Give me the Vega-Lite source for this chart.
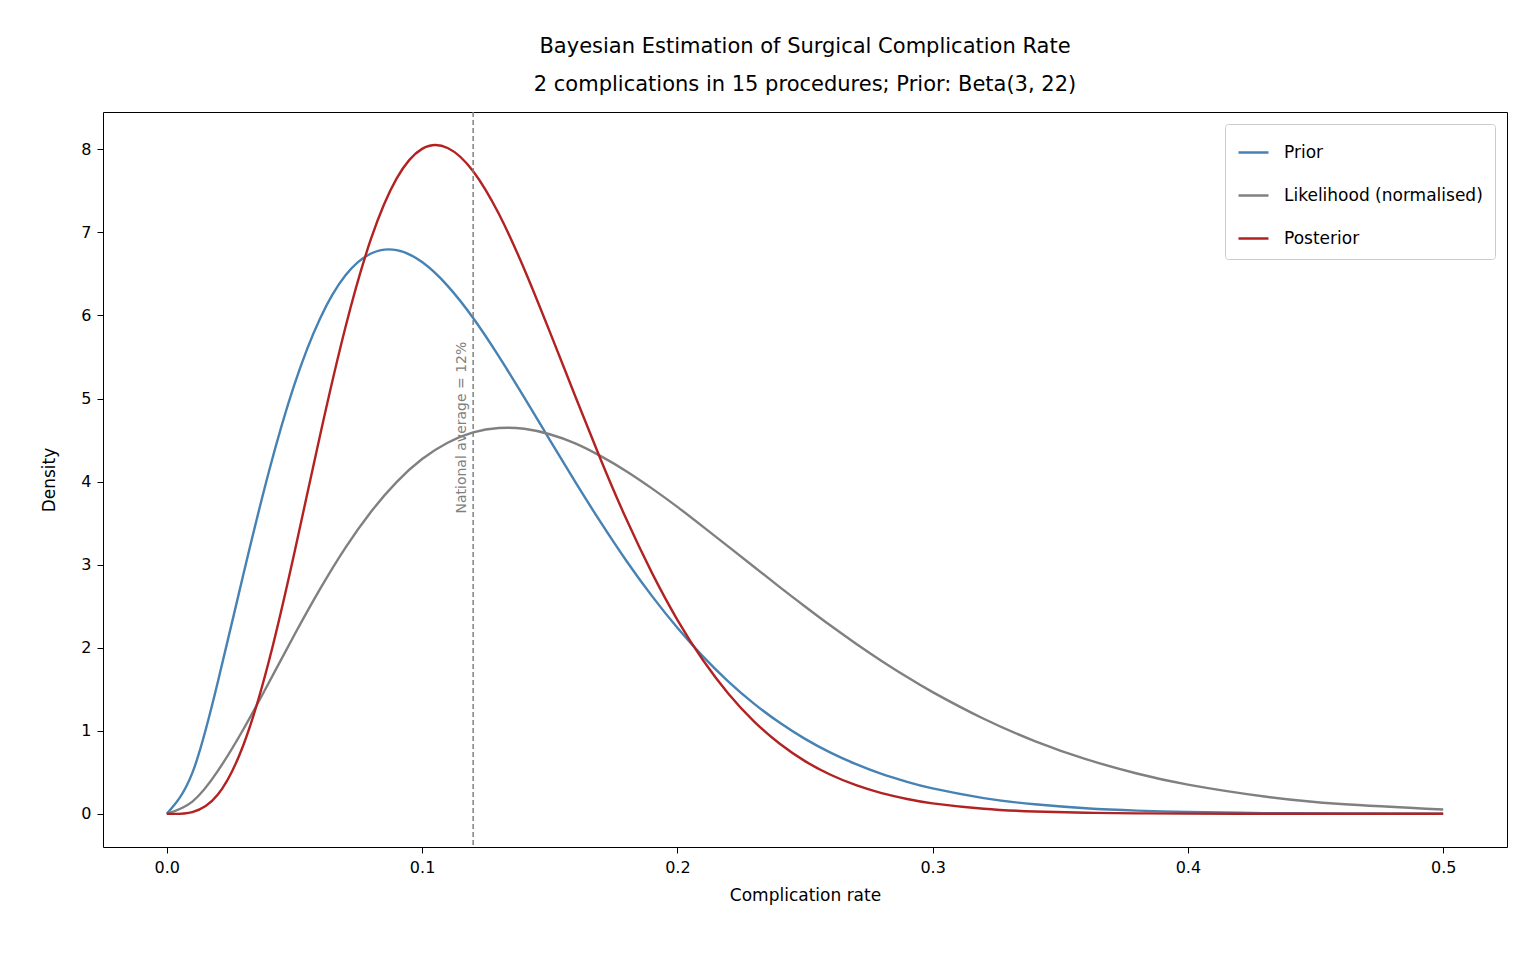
{
  "$schema": "https://vega.github.io/schema/vega-lite/v6.json",
  "width": 1404,
  "height": 735,
  "autosize": "none",
  "padding": {"left": 103, "top": 112, "right": 29, "bottom": 113},
  "background": "white",
  "config": {
    "font": "DejaVu Sans",
    "view": {"stroke": "black", "strokeWidth": 1},
    "axis": {"grid": false, "domain": false, "tickColor": "black", "tickSize": 6, "labelPadding": 6, "labelColor": "black", "labelFontSize": 16, "titleFontSize": 17, "titleFontWeight": "normal", "titleColor": "black"}
  },
  "title": {
    "text": ["Bayesian Estimation of Surgical Complication Rate", "2 complications in 15 procedures; Prior: Beta(3, 22)"],
    "fontSize": 21, "fontWeight": "normal", "anchor": "middle", "offset": 16, "lineHeight": 38
  },
  "datasets": {
    "curves": [
      {"x":0,"Prior":0,"Likelihood (normalised)":0,"Posterior":0},
      {"x":0.01,"Prior":0.492,"Likelihood (normalised)":0.147,"Posterior":0.0205},
      {"x":0.02,"Prior":1.589,"Likelihood (normalised)":0.517,"Posterior":0.232},
      {"x":0.03,"Prior":2.883,"Likelihood (normalised)":1.018,"Posterior":0.828},
      {"x":0.04,"Prior":4.122,"Likelihood (normalised)":1.581,"Posterior":1.839},
      {"x":0.05,"Prior":5.170,"Likelihood (normalised)":2.156,"Posterior":3.147},
      {"x":0.06,"Prior":5.961,"Likelihood (normalised)":2.705,"Posterior":4.552},
      {"x":0.07,"Prior":6.483,"Likelihood (normalised)":3.205,"Posterior":5.861},
      {"x":0.08,"Prior":6.746,"Likelihood (normalised)":3.637,"Posterior":6.924},
      {"x":0.09,"Prior":6.787,"Likelihood (normalised)":3.994,"Posterior":7.648},
      {"x":0.10,"Prior":6.643,"Likelihood (normalised)":4.271,"Posterior":8.006},
      {"x":0.11,"Prior":6.357,"Likelihood (normalised)":4.468,"Posterior":8.017},
      {"x":0.12,"Prior":5.970,"Likelihood (normalised)":4.592,"Posterior":7.737},
      {"x":0.13,"Prior":5.511,"Likelihood (normalised)":4.645,"Posterior":7.227},
      {"x":0.14,"Prior":5.014,"Likelihood (normalised)":4.636,"Posterior":6.560},
      {"x":0.15,"Prior":4.502,"Likelihood (normalised)":4.570,"Posterior":5.805},
      {"x":0.16,"Prior":3.995,"Likelihood (normalised)":4.460,"Posterior":5.028},
      {"x":0.17,"Prior":3.508,"Likelihood (normalised)":4.306,"Posterior":4.263},
      {"x":0.18,"Prior":3.047,"Likelihood (normalised)":4.125,"Posterior":3.548},
      {"x":0.19,"Prior":2.624,"Likelihood (normalised)":3.918,"Posterior":2.904},
      {"x":0.20,"Prior":2.240,"Likelihood (normalised)":3.695,"Posterior":2.336},
      {"x":0.21,"Prior":1.896,"Likelihood (normalised)":3.458,"Posterior":1.851},
      {"x":0.22,"Prior":1.592,"Likelihood (normalised)":3.217,"Posterior":1.446},
      {"x":0.23,"Prior":1.327,"Likelihood (normalised)":2.975,"Posterior":1.113},
      {"x":0.24,"Prior":1.098,"Likelihood (normalised)":2.732,"Posterior":0.846},
      {"x":0.25,"Prior":0.902,"Likelihood (normalised)":2.496,"Posterior":0.634},
      {"x":0.26,"Prior":0.736,"Likelihood (normalised)":2.266,"Posterior":0.470},
      {"x":0.27,"Prior":0.597,"Likelihood (normalised)":2.048,"Posterior":0.344},
      {"x":0.28,"Prior":0.480,"Likelihood (normalised)":1.841,"Posterior":0.249},
      {"x":0.29,"Prior":0.384,"Likelihood (normalised)":1.646,"Posterior":0.178},
      {"x":0.30,"Prior":0.305,"Likelihood (normalised)":1.465,"Posterior":0.126},
      {"x":0.32,"Prior":0.189,"Likelihood (normalised)":1.144,"Posterior":0.061},
      {"x":0.34,"Prior":0.114,"Likelihood (normalised)":0.876,"Posterior":0.028},
      {"x":0.36,"Prior":0.067,"Likelihood (normalised)":0.658,"Posterior":0.0124},
      {"x":0.38,"Prior":0.0383,"Likelihood (normalised)":0.485,"Posterior":0.0052},
      {"x":0.40,"Prior":0.0213,"Likelihood (normalised)":0.351,"Posterior":0.0021},
      {"x":0.43,"Prior":0.0084,"Likelihood (normalised)":0.208,"Posterior":0.0005},
      {"x":0.46,"Prior":0.0031,"Likelihood (normalised)":0.118,"Posterior":0.0001},
      {"x":0.50,"Prior":0.0007,"Likelihood (normalised)":0.0513,"Posterior":0}
    ],
    "marker": [{"x": 0.12, "y": 4.65, "label": "National average = 12%"}]
  },
  "layer": [
    {
      "data": {"name": "curves"},
      "transform": [{"fold": ["Prior", "Likelihood (normalised)", "Posterior"], "as": ["series", "density"]}],
      "mark": {"type": "line", "interpolate": "natural", "strokeWidth": 2.4},
      "encoding": {
        "x": {"field": "x", "type": "quantitative", "title": "Complication rate",
              "scale": {"domain": [-0.025, 0.525], "nice": false, "zero": false},
              "axis": {"values": [0, 0.1, 0.2, 0.3, 0.4, 0.5], "format": ".1f", "titlePadding": 12}},
        "y": {"field": "density", "type": "quantitative", "title": "Density",
              "scale": {"domain": [-0.4, 8.45], "nice": false, "zero": false},
              "axis": {"values": [0,1,2,3,4,5,6,7,8], "format": "d", "titlePadding": 22}},
        "color": {"field": "series", "type": "nominal",
                  "scale": {"domain": ["Prior", "Likelihood (normalised)", "Posterior"], "range": ["#4682b4", "#808080", "#b22222"]},
                  "legend": {"title": null, "orient": "top-right", "symbolType": "stroke", "symbolStrokeWidth": 2.5, "symbolSize": 900,
                             "labelFontSize": 17, "labelColor": "black", "labelLimit": 400, "labelOffset": 14, "rowPadding": 18, "padding": 12, "offset": 12,
                             "strokeColor": "#cccccc", "fillColor": "white", "cornerRadius": 3}}
      }
    },
    {
      "data": {"name": "marker"},
      "mark": {"type": "rule", "strokeDash": [5, 3], "color": "#808080", "strokeWidth": 1.5},
      "encoding": {"x": {"field": "x", "type": "quantitative"}}
    },
    {
      "data": {"name": "marker"},
      "mark": {"type": "text", "angle": 270, "color": "#808080", "fontSize": 14, "dy": -11},
      "encoding": {
        "x": {"field": "x", "type": "quantitative"},
        "y": {"field": "y", "type": "quantitative"},
        "text": {"field": "label"}
      }
    }
  ]
}
